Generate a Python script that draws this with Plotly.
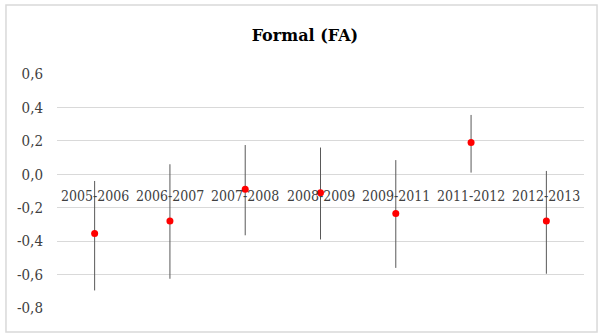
import plotly.graph_objects as go

categories = ["2005-2006", "2006-2007", "2007-2008", "2008-2009", "2009-2011", "2011-2012", "2012-2013"]
estimates = [-0.355, -0.28, -0.09, -0.11, -0.235, 0.19, -0.28]
upper = [-0.04, 0.06, 0.175, 0.16, 0.085, 0.355, 0.02]
lower = [-0.695, -0.625, -0.365, -0.39, -0.56, 0.01, -0.595]
y_ticks = [0.6, 0.4, 0.2, 0.0, -0.2, -0.4, -0.6, -0.8]
y_tick_labels = ["0,6", "0,4", "0,2", "0,0", "-0,2", "-0,4", "-0,6", "-0,8"]

err_plus = [u - e for u, e in zip(upper, estimates)]
err_minus = [e - l for e, l in zip(estimates, lower)]

FONT = "DejaVu Serif"
FONT_COND = "DejaVu Serif Condensed, DejaVu Serif"

fig = go.Figure()
fig.add_trace(go.Scatter(
    x=categories, y=estimates, mode="markers",
    marker=dict(color="#ff0000", size=7),
    error_y=dict(type="data", symmetric=False, array=err_plus, arrayminus=err_minus,
                 color="#595959", thickness=1, width=0),
    showlegend=False, hoverinfo="skip",
))

for c in categories:
    fig.add_annotation(x=c, y=0, xref="x", yref="y", text=c, showarrow=False,
                       yanchor="top", yshift=-12, font=dict(family=FONT_COND, size=14, color="#404040"))

fig.add_shape(type="rect", xref="paper", yref="paper",
              x0=-0.0968, x1=1.0247, y0=-0.1026, y1=1.295,
              line=dict(color="#d9d9d9", width=1.5), layer="above")

fig.update_layout(
    width=599, height=334,
    margin=dict(l=57, r=15, t=74, b=26),
    paper_bgcolor="white", plot_bgcolor="white",
    title=dict(text="<b>Formal (FA)</b>", x=0.509, xanchor="center", y=0.895, yanchor="middle",
               font=dict(family=FONT, size=16, color="#000000")),
    xaxis=dict(showticklabels=False, showgrid=False, zeroline=False, showline=False,
               range=[-0.5, len(categories) - 0.5]),
    yaxis=dict(range=[-0.8, 0.6], tickvals=y_ticks, ticktext=y_tick_labels,
               showgrid=True, gridcolor="#d9d9d9", gridwidth=1,
               zeroline=True, zerolinecolor="#d9d9d9", zerolinewidth=1,
               showline=False, ticks="", ticklabelstandoff=13,
               tickfont=dict(family=FONT_COND, size=15, color="#404040")),
)

fig.write_html("out.html", config={"displayModeBar": False},
               post_script="document.body.style.margin='0';")
